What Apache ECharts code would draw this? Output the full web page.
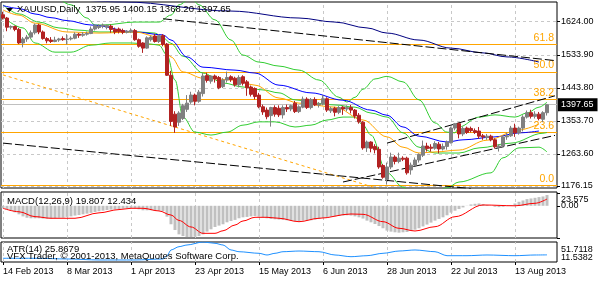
<!DOCTYPE html>
<html><head><meta charset="utf-8">
<script src="https://cdn.jsdelivr.net/npm/echarts@6/dist/echarts.min.js"></script>
<style>html,body{margin:0;padding:0;background:#fff}#c{width:600px;height:281px}</style>
</head><body><div id="c"></div>
<script>
// ---- categories (trading days 14 Feb 2013 .. 23 Aug 2013) ----
const monthNames = ['Jan','Feb','Mar','Apr','May','Jun','Jul','Aug','Sep','Oct','Nov','Dec'];
const dates = [];
(function(){
  let t = Date.UTC(2013,1,14); const end = Date.UTC(2013,7,23);
  while (t <= end) { const d = new Date(t); const wd = d.getUTCDay();
    if (wd !== 0 && wd !== 6) dates.push(d.getUTCDate()+' '+monthNames[d.getUTCMonth()]+' '+d.getUTCFullYear());
    t += 86400000; }
})();
const categories = dates.concat(['', ' ']);

// ---- OHLC ----
const openP  = [1643,1634,1609,1611,1603,1566,1577,1582,1594,1615,1596,1578,1574,1570,1574,1578,1575,1577,1579,1590,1587,1590,1592,1604,1608,1612,1609,1612,1603,1604,1600,1595,1597,1600,1575,1566,1552,1575,1585,1570,1586,1563,1478,1372,1350,1360,1385,1405,1424,1407,1428,1477,1462,1476,1472,1447,1465,1474,1470,1452,1474,1460,1446,1442,1424,1392,1383,1368,1390,1388,1370,1390,1386,1402,1379,1391,1413,1390,1412,1397,1400,1414,1381,1388,1377,1391,1386,1390,1383,1369,1350,1280,1296,1284,1276,1232,1194,1228,1255,1243,1252,1252,1220,1233,1247,1260,1285,1282,1279,1290,1277,1284,1294,1334,1346,1318,1334,1333,1327,1326,1313,1308,1312,1302,1282,1285,1310,1313,1334,1321,1334,1364,1376,1366,1372,1358,1375.95];
const highP  = [1651,1637,1614,1613,1607,1582,1588,1600,1619,1618,1600,1582,1582,1583,1580,1584,1590,1584,1595,1593,1596,1597,1611,1616,1617,1619,1616,1616,1608,1608,1605,1601,1606,1604,1578,1568,1584,1586,1591,1590,1590,1566,1490,1380,1380,1400,1424,1433,1428,1438,1484,1485,1478,1480,1476,1470,1488,1478,1474,1478,1478,1465,1450,1445,1430,1398,1390,1392,1396,1396,1396,1398,1398,1408,1396,1420,1418,1416,1418,1405,1424,1418,1392,1392,1394,1394,1396,1397,1386,1375,1353,1300,1298,1290,1283,1236,1240,1267,1260,1267,1257,1256,1240,1254,1265,1300,1294,1290,1298,1296,1292,1300,1338,1348,1349,1338,1338,1338,1333,1337,1318,1318,1316,1306,1290,1314,1322,1340,1346,1338,1369,1382,1384,1380,1378,1380,1400.15];
const lowP   = [1630,1598,1603,1598,1563,1554,1569,1578,1589,1590,1575,1565,1566,1568,1569,1572,1562,1573,1576,1580,1583,1586,1590,1600,1604,1606,1603,1594,1590,1592,1590,1592,1593,1572,1553,1539,1550,1570,1567,1566,1557,1476,1340,1321,1340,1356,1378,1400,1396,1403,1420,1458,1455,1458,1440,1443,1458,1460,1447,1445,1450,1422,1420,1412,1388,1370,1358,1338,1365,1364,1360,1378,1380,1375,1375,1388,1386,1385,1394,1390,1396,1378,1375,1366,1372,1370,1380,1374,1360,1346,1275,1269,1268,1265,1223,1196,1180,1222,1235,1238,1244,1207,1207,1230,1240,1255,1270,1270,1275,1265,1273,1275,1292,1328,1306,1312,1318,1322,1318,1305,1302,1302,1298,1278,1270,1282,1302,1310,1310,1316,1325,1360,1360,1360,1355,1350,1368.20];
const closeP = [1634,1609,1611,1603,1566,1577,1582,1594,1615,1596,1578,1572,1570,1574,1577,1575,1577,1579,1590,1587,1590,1592,1604,1613,1612,1615,1614,1603,1596,1597,1595,1598,1600,1575,1557,1552,1580,1582,1570,1586,1562,1478,1352,1337,1375,1395,1402,1424,1407,1432,1476,1464,1476,1468,1444,1465,1472,1466,1452,1472,1456,1444,1426,1420,1392,1378,1365,1390,1372,1370,1390,1386,1395,1379,1392,1413,1390,1412,1397,1400,1414,1383,1387,1377,1390,1386,1390,1383,1367,1351,1280,1296,1279,1275,1228,1200,1228,1255,1243,1252,1249,1212,1233,1247,1262,1285,1278,1279,1292,1277,1284,1296,1334,1346,1318,1333,1322,1327,1322,1312,1310,1312,1302,1283,1285,1310,1313,1334,1321,1334,1364,1376,1366,1372,1360,1376,1397.65];

// ---- indicator lines: [barIndex, price] ----
const ma200 = [[0,1706],[30,1678],[57,1653],[74,1634],[83,1623],[91,1607],[96,1593],[104,1574],[112,1552],[120,1539],[126,1528],[134,1514]];
const maBlue = [[0,1668],[4,1660],[8,1645],[12,1635],[16,1627],[22,1615],[33,1596],[40,1588],[42,1574],[46,1528],[50,1500],[58,1492],[63,1484],[69,1451],[77,1430],[85,1410],[92,1383],[96,1369],[100,1337],[104,1312],[111,1296],[115,1302],[123,1310],[129,1321],[134,1326]];
const maOrange = [[0,1656],[4,1642],[8,1620],[16,1596],[24,1593],[33,1596],[39,1582],[42,1528],[45,1487],[50,1470],[58,1465],[63,1451],[69,1416],[74,1402],[83,1391],[90,1356],[96,1310],[100,1282],[104,1266],[108,1269],[114,1274],[121,1301],[129,1329],[134,1345]];
const bbUpper = [[0,1710],[12,1697],[17,1670],[21,1634],[23,1615],[25,1615],[33,1623],[39,1623],[42,1642],[44,1670],[47,1689],[49,1670],[53,1629],[57,1574],[60,1533],[64,1514],[69,1503],[74,1492],[79,1465],[84,1418],[86,1405],[88,1418],[90,1440],[93,1468],[96,1475],[100,1460],[104,1411],[108,1348],[111,1323],[113,1321],[114,1337],[119,1364],[123,1370],[128,1364],[131,1375],[134,1391],[136,1405]];
const bbMiddle = [[0,1670],[4,1645],[9,1623],[14,1607],[19,1601],[24,1596],[31,1596],[34,1596],[38,1593],[40,1580],[42,1565],[45,1530],[50,1484],[55,1457],[60,1446],[65,1438],[69,1430],[73,1411],[78,1402],[83,1397],[88,1391],[92,1375],[96,1364],[100,1321],[104,1282],[108,1266],[112,1266],[114,1266],[119,1280],[127,1293],[135,1320],[136,1322]];
const bbLower = [[0,1637],[5,1607],[8,1566],[13,1541],[17,1541],[22,1560],[27,1566],[32,1566],[37,1563],[39,1560],[41,1533],[43,1465],[45,1364],[48,1323],[52,1315],[56,1323],[60,1342],[64,1351],[68,1351],[73,1337],[77,1342],[81,1356],[85,1364],[88,1364],[90,1342],[92,1315],[96,1212],[100,1173],[102,1160],[107,1152],[111,1171],[114,1187],[122,1212],[125,1253],[129,1280],[134,1282],[136,1269]];
const orangeDotted = [[0,1479],[95,1165]];
const trendDownUpper = [[40,1632],[138,1518]];
const trendDownLower = [[0,1293],[117,1169]];
const trendUpUpper = [[96,1293],[138,1422]];
const trendUpLower = [[85,1187],[138,1314]];

// ---- Fibonacci levels ----
const fibNames  = ['0.0','23.6','38.2','50.0','61.8'];
const fibPrices = [1177,1322.5,1412.5,1487,1561.3];
const bidPrice = 1397.65;

// ---- MACD (12,26,9) ----
const macdMain = [-4.6,-6.5,-9.5,-12,-15.7,-19.5,-22,-23,-23,-23,-23.5,-23.5,-23.5,-23,-22,-22,-20.5,-19.5,-18,-17,-15.7,-14.5,-13,-11.4,-10,-9,-7.7,-7,-6.5,-6,-5.3,-4.6,-4,-4.6,-6.5,-8.3,-8.3,-8.3,-9,-9,-10,-20,-34,-44.6,-52.6,-55.7,-57.6,-57.6,-57,-55.7,-52.6,-47.6,-43.3,-39,-36.5,-34,-30.4,-28,-26,-23,-21.2,-20.5,-19.5,-18.8,-20,-21.2,-23,-24.2,-24.8,-25.4,-26,-26.7,-27.3,-28,-28.5,-27.3,-27.3,-26.7,-25.4,-24.2,-22.3,-21.2,-20,-19.5,-18.8,-18,-17.5,-18,-19.5,-21.2,-23.5,-27.3,-30.4,-33.5,-37.3,-41.4,-45.7,-47.6,-48.8,-49.5,-48.8,-48.3,-46.4,-44,-41.4,-38,-34.6,-31,-27.3,-24.2,-21.2,-17.5,-12.6,-9,-6,-3,0.3,2.5,3.7,4.3,3,1.5,0.2,-1.8,-2.4,-1.8,-0.6,1.2,4.3,7.4,9.8,12.3,13.5,14.7,16,17.2,19.807];
const macdSignal = [[0,-4.6],[4,-11],[8,-20],[12,-23],[18,-23],[24,-13],[29,-7],[32,-4.6],[35,-4.6],[39,-9.5],[42,-17],[44,-27],[47,-39],[50,-50.7],[53,-50.7],[55,-46],[58,-35.4],[60,-28],[63,-21.2],[66,-21.2],[69,-23],[74,-29.3],[79,-23],[87,-15.1],[90,-15.7],[95,-29.3],[99,-41.4],[103,-46.4],[108,-38.5],[113,-20.1],[120,1.5],[128,0],[133,4.6],[136,12.434]];
const macdMax = 23.575, macdMin = -59.318;

// ---- ATR(14) ----
const atr = [[0,19],[8,19],[16,17.6],[24,15.6],[33,15.6],[40,17.6],[41,24],[42,35.7],[44,42.3],[46,45.7],[50,51.7],[53,49.1],[55,45.7],[57,35.7],[59,32.2],[64,29],[66,25.6],[68,29],[70,32.2],[74,33.6],[79,32.2],[83,25.6],[87,22.2],[91,24.2],[95,29],[99,33.6],[103,35.7],[108,32.2],[111,24.2],[116,24.2],[121,25.6],[128,24.2],[133,25.6],[136,25.8679]];
const atrMax = 51.7118, atrMin = 11.5382;

// ---- axis ticks ----
const priceTicks = [1176.15, 1263.60, 1353.70, 1443.80, 1533.90, 1624.00];
const vGridIdx = [0,16,32,48,64,80,96,112,128];

// ---------------------------------------------------------------
const FONT = 'Liberation Sans, Arial, sans-serif';
const candleData = openP.map((o,i)=>[o, closeP[i], lowP[i], highP[i]]);
const gridColor = '#c8c8c8';

function lineSeries(data, color, extra) {
  return Object.assign({type:'line', xAxisIndex:0, yAxisIndex:0, data, symbol:'none', silent:true,
    smooth:0.35, smoothMonotone:'x', lineStyle:{color, width:1}, z:3}, extra||{});
}
function trend(data) {
  return {type:'line', xAxisIndex:0, yAxisIndex:0, data, symbol:'none', silent:true,
    lineStyle:{color:'#000', width:1, type:[9,3]}, z:4};
}
function vGrid(ax) {
  return {type:'line', xAxisIndex:ax, yAxisIndex:ax, data:[], silent:true,
    markLine:{silent:true, symbol:['none','none'], z:1, animation:false, label:{show:false},
      lineStyle:{color:gridColor, type:[3,3], width:1},
      data: vGridIdx.map(i=>({xAxis: categories[i]})).concat(ax===0 ? priceTicks.map(v=>({yAxis:v})) : [])}};
}
function sideLabels(ax, items) {
  return {type:'line', xAxisIndex:ax, yAxisIndex:ax, data:[], silent:true,
    markLine:{silent:true, symbol:['none','none'], z:6, animation:false,
      lineStyle:{color:'rgba(0,0,0,0)', width:1, type:'solid'},
      label:{show:true, position:'end', distance:4, color:'#000', fontSize:9, fontFamily:FONT},
      data: items.map(it=>({name:it.text, yAxis:it.v,
        label:{show:true, formatter:it.text, verticalAlign:it.va, padding:it.pad}}))}};
}
const hiddenX = (gi)=>({type:'category', gridIndex:gi, data:categories, boundaryGap:true,
  axisLine:{show:false}, axisTick:{show:false}, axisLabel:{show:false}, splitLine:{show:false}});

const option = {
  animation:false,
  backgroundColor:'#fff',
  textStyle:{fontFamily:FONT},
  title:[
    {text:'XAUUSD,Daily  1375.95 1400.15 1368.20 1397.65', left:17, top:4, padding:0,
      textStyle:{fontSize:9.5, fontWeight:'normal', color:'#000', fontFamily:FONT}},
    {text:'MACD(12,26,9) 19.807 12.434', left:7, top:196, padding:0,
      textStyle:{fontSize:9.5, fontWeight:'normal', color:'#000', fontFamily:FONT}},
    {text:'ATR(14) 25.8679', left:7, top:244, padding:0,
      textStyle:{fontSize:9.5, fontWeight:'normal', color:'#000', fontFamily:FONT}},
    {text:'VFX Trader, \u00a9 2001-2013, MetaQuotes Software Corp.', left:7, top:251, padding:0,
      textStyle:{fontSize:9.5, fontWeight:'normal', color:'#000', fontFamily:FONT}}
  ],
  graphic:[{type:'polygon', shape:{points:[[6,8],[13,8],[9.5,12]]}, style:{fill:'#000'}, z:10}],
  grid:[
    {left:1, top:2, width:556, height:186, show:true, borderColor:'#000', borderWidth:1, outerBoundsMode:'none', containLabel:false},
    {left:1, top:192, width:556, height:46, show:true, borderColor:'#000', borderWidth:1, outerBoundsMode:'none', containLabel:false},
    {left:1, top:242, width:556, height:20, show:true, borderColor:'#000', borderWidth:1, outerBoundsMode:'none', containLabel:false}
  ],
  xAxis:[
    hiddenX(0), hiddenX(1),
    {type:'category', gridIndex:2, data:categories, boundaryGap:true,
      axisLine:{show:false},
      axisTick:{show:true, interval:15, alignWithLabel:true, length:3, lineStyle:{color:'#000'}},
      axisLabel:{show:true, interval:15, align:'left', margin:5, fontSize:9, color:'#000', fontFamily:FONT, hideOverlap:false},
      splitLine:{show:false}}
  ],
  yAxis:[
    {type:'value', gridIndex:0, position:'right', min:1170.66, max:1677.7,
      axisLine:{show:false}, splitLine:{show:false},
      axisTick:{show:true, customValues:priceTicks, length:3, lineStyle:{color:'#000'}},
      axisLabel:{customValues:priceTicks, formatter:v=>v.toFixed(2), fontSize:9, color:'#000', margin:4, fontFamily:FONT, hideOverlap:false}},
    {type:'value', gridIndex:1, position:'right', min:macdMin, max:25.4,
      axisLine:{show:false}, splitLine:{show:false},
      axisTick:{show:true, customValues:[macdMin, 0, macdMax], length:3, lineStyle:{color:'#000'}},
      axisLabel:{customValues:[0], formatter:v=>v.toFixed(2), fontSize:9, color:'#000', margin:4, fontFamily:FONT, hideOverlap:false}},
    {type:'value', gridIndex:2, position:'right', min:atrMin, max:atrMax,
      axisLine:{show:false}, splitLine:{show:false},
      axisTick:{show:false}, axisLabel:{show:false}}
  ],
  series:[
    vGrid(0), vGrid(1), vGrid(2),
    // Fibonacci
    {type:'line', xAxisIndex:0, yAxisIndex:0, data:[], silent:true,
      markLine:{silent:true, symbol:['none','none'], z:2, animation:false,
        lineStyle:{color:'#FFA500', type:'solid', width:1},
        label:{position:'insideEndTop', formatter:p=>p.name, color:'#FFA500', fontSize:10.5, fontFamily:FONT, distance:[3,1]},
        data: fibNames.map((n,i)=>({name:n, yAxis:fibPrices[i]}))}},
    // bid line
    {type:'line', xAxisIndex:0, yAxisIndex:0, data:[], silent:true,
      markLine:{silent:true, symbol:['none','none'], z:2, animation:false,
        lineStyle:{color:'#c0c0c0', type:'solid', width:1},
        label:{position:'end', formatter:bidPrice.toFixed(2), color:'#fff', backgroundColor:'#000', padding:[2,4,2,3], fontSize:9, fontFamily:FONT, distance:1},
        data:[{yAxis:bidPrice}]}},
    lineSeries(orangeDotted, '#FFA500', {smooth:false, lineStyle:{color:'#FFA500', width:1, type:[3,3]}}),
    trend(trendDownUpper), trend(trendDownLower), trend(trendUpUpper), trend(trendUpLower),
    lineSeries(bbUpper, '#32CD32'), lineSeries(bbMiddle, '#32CD32'), lineSeries(bbLower, '#32CD32'),
    lineSeries(ma200, '#000080'),
    lineSeries(maBlue, '#0000FF'),
    lineSeries(maOrange, '#FFA500'),
    {type:'candlestick', xAxisIndex:0, yAxisIndex:0, data:candleData, barWidth:3, silent:true, z:5,
      itemStyle:{color:'#808080', color0:'#B22222', borderColor:'#808080', borderColor0:'#B22222', borderWidth:1}},
    // MACD
    {type:'bar', xAxisIndex:1, yAxisIndex:1, data:macdMain, barWidth:3, silent:true,
      itemStyle:{color:'#C0C0C0'}, z:3},
    {type:'line', xAxisIndex:1, yAxisIndex:1, data:macdSignal, symbol:'none', silent:true, smooth:0.35, smoothMonotone:'x',
      lineStyle:{color:'#FF0000', width:1}, z:4},
    sideLabels(1, [{v:macdMax, text:'23.575', va:'top', pad:[2,0,0,0]}, {v:macdMin, text:'-59.318', va:'bottom', pad:[0,0,0,0]}]),
    // ATR
    {type:'line', xAxisIndex:2, yAxisIndex:2, data:atr, symbol:'none', silent:true, smooth:0.3, smoothMonotone:'x',
      lineStyle:{color:'#1E90FF', width:1}, z:4},
    sideLabels(2, [{v:atrMax, text:'51.7118', va:'top', pad:[3,0,0,0]}, {v:atrMin, text:'11.5382', va:'bottom', pad:[0,0,0,0]}])
  ]
};
const chart = echarts.init(document.getElementById('c'), null, {renderer:'canvas'});
chart.setOption(option);
</script>
</body></html>
